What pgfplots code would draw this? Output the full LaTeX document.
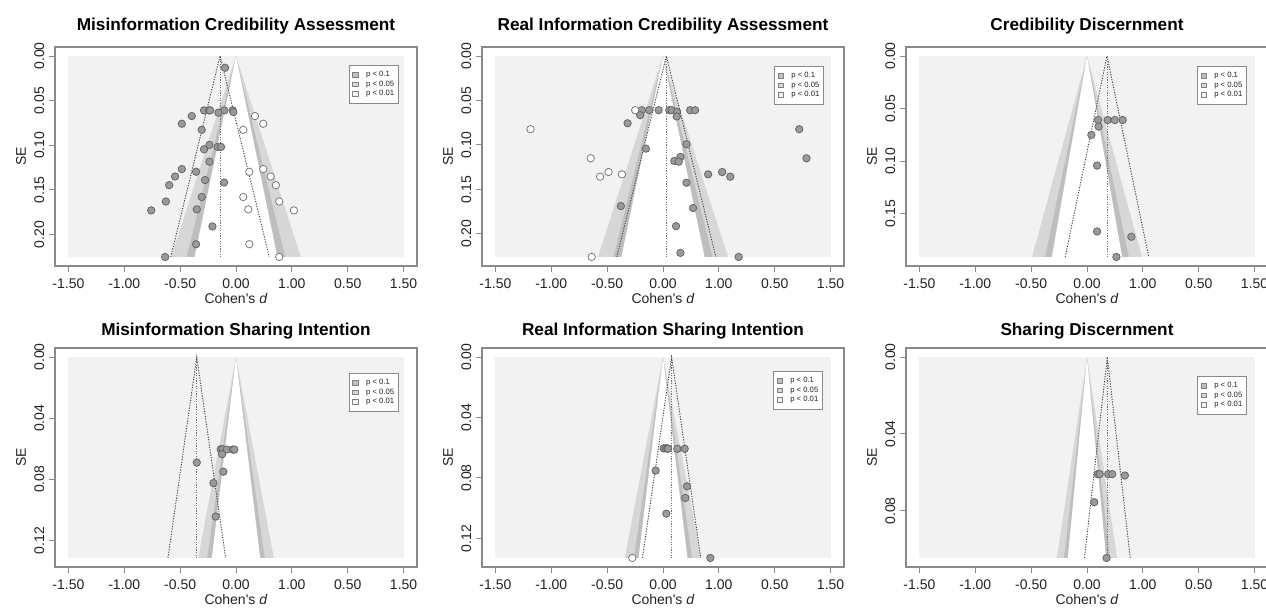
\documentclass[border=0pt]{standalone}
\usepackage{fontspec}
\setmainfont{Liberation Sans}
\usepackage{pgfplots}
\pgfplotsset{compat=1.18}

% contour shades and mark colours
\definecolor{bgshade}{HTML}{F2F2F2}
\definecolor{band99}{HTML}{D7D7D7}
\definecolor{band95}{HTML}{BEBEBE}
\definecolor{boxgray}{HTML}{8A8A8A}
\definecolor{ptfill}{HTML}{9A9A9A}
\definecolor{ptedge}{HTML}{666666}
\definecolor{openedge}{HTML}{7A7A7A}
\definecolor{txt}{HTML}{222222}

\pgfplotsset{
  funnel/.style={
    scale only axis, width=181pt, height=109.5pt,
    anchor=south west,
    xmin=-1.62, xmax=1.62,
    y dir=reverse,
    axis line style={boxgray, line width=0.6pt},
    xtick={-1.5,-1,-0.5,0,0.5,1,1.5},
    xticklabels={-1.50,-1.00,-0.50,0.00,1.00,0.50,1.50},
    tick align=outside, tick pos=left,
    major tick length=3pt,
    tick style={boxgray, line width=0.5pt},
    ticklabel style={font=\fontsize{7}{8}\selectfont, text=txt},
    /pgf/number format/assume math mode=true,
    yticklabel style={rotate=90, anchor=south,
      /pgf/number format/.cd, fixed, fixed zerofill, precision=2},
    yticklabel shift=-1.2pt,
    xlabel={Cohen\textquotesingle s \textit{d}},
    ylabel={SE},
    every axis x label/.style={at={(axis description cs:0.5,0)}, anchor=center, yshift=-16pt},
    every axis y label/.style={at={(axis description cs:-0.094,0.5)}, rotate=90, anchor=center},
    label style={font=\fontsize{7}{8}\selectfont, text=txt},
    legend style={draw=boxgray, line width=0.4pt, fill=white,
      font=\fontsize{3.85}{4.6}\selectfont, text=txt,
      inner xsep=1.6pt, inner ysep=2.4pt, row sep=0pt, column sep=3.4pt,
      nodes={inner sep=0.55pt, text height=2.8pt, text depth=0.8pt},
      anchor=north east},
    legend cell align=left,
    legend image code/.code={\draw[##1, line width=0.3pt] (0pt,-1.2pt) rectangle (2.6pt,1.2pt);},
  },
  bg/.style={fill=bgshade, draw=none, forget plot},
  b99/.style={fill=band99, draw=none, forget plot},
  b95/.style={fill=band95, draw=none, forget plot},
  b90/.style={fill=white, draw=none, forget plot},
  funnelline/.style={black!75, line width=0.45pt, dash pattern=on 0.6pt off 0.7pt, forget plot},
  estline/.style={black!55, line width=0.45pt, dash pattern=on 0.6pt off 0.7pt, forget plot},
  filled/.style={only marks, mark=*, mark size=1.85pt, forget plot,
    mark options={fill=ptfill, draw=ptedge, line width=0.4pt}},
  open/.style={only marks, mark=*, mark size=1.85pt, forget plot,
    mark options={fill=white, draw=openedge, line width=0.4pt}},
}

% legend of the three contour levels
\newcommand{\contourlegend}{%
  \addlegendimage{fill=band95, draw=gray}\addlegendentry{p < 0.1}
  \addlegendimage{fill=band99, draw=gray}\addlegendentry{p < 0.05}
  \addlegendimage{fill=bgshade, draw=gray}\addlegendentry{p < 0.01}
}

\newcommand{\paneltitle}[3]{\node[font=\fontsize{8.6}{10}\selectfont\bfseries, text=black] at (#1,#2) {#3};}

\begin{document}
\begin{tikzpicture}
\path[use as bounding box] (0,0) rectangle (633pt,-305pt);

% ---------------- Misinformation Credibility Assessment ----------------
\begin{axis}[funnel, at={(27.5pt,-133pt)},
  ymin=-0.0101, ymax=0.2353, ytick={0,0.05,0.10,0.15,0.20},
  legend style={at={(0.95,0.918)}}]
\addplot[bg]  coordinates {(-1.5,0) (1.5,0) (1.5,0.2252) (-1.5,0.2252)} -- cycle;
\addplot[b99] coordinates {(0,0) (0.5801,0.2252) (-0.5801,0.2252)} -- cycle;
\addplot[b95] coordinates {(0,0) (0.4414,0.2252) (-0.4414,0.2252)} -- cycle;
\addplot[b90] coordinates {(0,0) (0.3705,0.2252) (-0.3705,0.2252)} -- cycle;
\addplot[funnelline] coordinates {(-0.584,0.2252) (-0.143,0) (0.298,0.2252)};
\addplot[estline] coordinates {(-0.143,0) (-0.143,0.2252)};
\addplot[filled] coordinates {
 (-0.098,0.0132) (-0.286,0.0609) (-0.241,0.0609) (-0.232,0.0609) (-0.104,0.0609)
 (-0.030,0.0609) (-0.024,0.0628) (-0.158,0.0635) (-0.396,0.0673) (-0.485,0.0759)
 (-0.307,0.0827) (-0.238,0.0996) (-0.286,0.1045) (-0.164,0.1019) (-0.134,0.1019)
 (-0.238,0.1184) (-0.485,0.1267) (-0.357,0.1297) (-0.545,0.1350) (-0.598,0.1447)
 (-0.277,0.1390) (-0.107,0.1417) (-0.307,0.1580) (-0.628,0.1630) (-0.351,0.1718)
 (-0.759,0.1730) (-0.211,0.1910) (-0.357,0.2109) (-0.634,0.2252)};
\addplot[open] coordinates {
 (0.170,0.0673) (0.244,0.0759) (0.065,0.0827) (0.119,0.1297) (0.244,0.1267)
 (0.310,0.1350) (0.357,0.1447) (0.387,0.1630) (0.065,0.1580) (0.110,0.1718)
 (0.518,0.1730) (0.119,0.2109) (0.387,0.2252)};
\contourlegend
\end{axis}

% ---------------- Real Information Credibility Assessment ----------------
\begin{axis}[funnel, at={(241pt,-133pt)},
  ymin=-0.0102, ymax=0.2362, ytick={0,0.05,0.10,0.15,0.20},
  legend style={at={(0.945,0.913)}}]
\addplot[bg]  coordinates {(-1.5,0) (1.5,0) (1.5,0.226) (-1.5,0.226)} -- cycle;
\addplot[b99] coordinates {(0,0) (0.5822,0.226) (-0.5822,0.226)} -- cycle;
\addplot[b95] coordinates {(0,0) (0.4430,0.226) (-0.4430,0.226)} -- cycle;
\addplot[b90] coordinates {(0,0) (0.3718,0.226) (-0.3718,0.226)} -- cycle;
\addplot[funnelline] coordinates {(-0.413,0.226) (0.030,0) (0.473,0.226)};
\addplot[estline] coordinates {(0.030,0) (0.030,0.226)};
\addplot[filled] coordinates {
 (-0.189,0.0609) (-0.123,0.0609) (-0.039,0.0609) (0.057,0.0609) (0.078,0.0609)
 (0.126,0.0628) (0.243,0.0609) (0.287,0.0609) (-0.204,0.0665) (0.123,0.0680)
 (-0.317,0.0756) (1.219,0.0823) (0.210,0.0992) (-0.153,0.1041) (0.102,0.1180)
 (0.156,0.1135) (0.141,0.1188) (1.284,0.1150) (0.404,0.1331) (0.530,0.1305)
 (0.602,0.1357) (0.210,0.1425) (-0.377,0.1688) (0.269,0.1710) (0.117,0.1914)
 (0.156,0.2214) (0.677,0.2260)};
\addplot[open] coordinates {
 (-0.249,0.0609) (-1.186,0.0823) (-0.647,0.1150) (-0.488,0.1305) (-0.563,0.1357)
 (-0.368,0.1331) (-0.638,0.2260)};
\contourlegend
\end{axis}

% ---------------- Credibility Discernment ----------------
\begin{axis}[funnel, at={(453pt,-133pt)},
  ymin=-0.0086, ymax=0.1996, ytick={0,0.05,0.10,0.15},
  legend style={at={(0.942,0.913)}}]
\addplot[bg]  coordinates {(-1.5,0) (1.5,0) (1.5,0.191) (-1.5,0.191)} -- cycle;
\addplot[b99] coordinates {(0,0) (0.4920,0.191) (-0.4920,0.191)} -- cycle;
\addplot[b95] coordinates {(0,0) (0.3744,0.191) (-0.3744,0.191)} -- cycle;
\addplot[b90] coordinates {(0,0) (0.3142,0.191) (-0.3142,0.191)} -- cycle;
\addplot[funnelline] coordinates {(-0.195,0.191) (0.179,0) (0.553,0.191)};
\addplot[estline] coordinates {(0.179,0) (0.179,0.191)};
\addplot[filled] coordinates {
 (0.099,0.0608) (0.185,0.0608) (0.248,0.0608) (0.319,0.0608) (0.104,0.0671)
 (0.039,0.0750) (0.090,0.1041) (0.090,0.1668) (0.397,0.1718) (0.263,0.1910)};
\contourlegend
\end{axis}

% ---------------- Misinformation Sharing Intention ----------------
\begin{axis}[funnel, at={(27.5pt,-283.5pt)},
  ymin=-0.0059, ymax=0.1373, ytick={0,0.04,0.08,0.12},
  legend style={at={(0.95,0.886)}}]
\addplot[bg]  coordinates {(-1.5,0) (1.5,0) (1.5,0.1314) (-1.5,0.1314)} -- cycle;
\addplot[b99] coordinates {(0,0) (0.3385,0.1314) (-0.3385,0.1314)} -- cycle;
\addplot[b95] coordinates {(0,0) (0.2575,0.1314) (-0.2575,0.1314)} -- cycle;
\addplot[b90] coordinates {(0,0) (0.2162,0.1314) (-0.2162,0.1314)} -- cycle;
\addplot[funnelline] coordinates {(-0.609,0.1314) (-0.351,0) (-0.093,0.1314)};
\addplot[estline] coordinates {(-0.351,0) (-0.351,0.1314)};
\addplot[filled] coordinates {
 (-0.137,0.0603) (-0.119,0.0603) (-0.083,0.0605) (-0.030,0.0605) (-0.015,0.0605)
 (-0.125,0.0635) (-0.351,0.0690) (-0.113,0.0750) (-0.202,0.0824) (-0.182,0.1043)};
\contourlegend
\end{axis}

% ---------------- Real Information Sharing Intention ----------------
\begin{axis}[funnel, at={(241pt,-283.5pt)},
  ymin=-0.0060, ymax=0.1389, ytick={0,0.04,0.08,0.12},
  legend style={at={(0.942,0.895)}}]
\addplot[bg]  coordinates {(-1.5,0) (1.5,0) (1.5,0.1329) (-1.5,0.1329)} -- cycle;
\addplot[b99] coordinates {(0,0) (0.3424,0.1329) (-0.3424,0.1329)} -- cycle;
\addplot[b95] coordinates {(0,0) (0.2605,0.1329) (-0.2605,0.1329)} -- cycle;
\addplot[b90] coordinates {(0,0) (0.2186,0.1329) (-0.2186,0.1329)} -- cycle;
\addplot[funnelline] coordinates {(-0.184,0.1329) (0.077,0) (0.338,0.1329)};
\addplot[estline] coordinates {(0.077,0) (0.077,0.1329)};
\addplot[filled] coordinates {
 (0.006,0.0604) (0.024,0.0604) (0.039,0.0604) (0.045,0.0607) (0.128,0.0607)
 (0.194,0.0607) (-0.066,0.0751) (0.215,0.0855) (0.200,0.0932) (0.030,0.1036)
 (0.424,0.1329)};
\addplot[open] coordinates {(-0.275,0.1329)};
\contourlegend
\end{axis}

% ---------------- Sharing Discernment ----------------
\begin{axis}[funnel, at={(453pt,-283.5pt)},
  ymin=-0.0047, ymax=0.1092, ytick={0,0.04,0.08},
  legend style={at={(0.942,0.872)}}]
\addplot[bg]  coordinates {(-1.5,0) (1.5,0) (1.5,0.1045) (-1.5,0.1045)} -- cycle;
\addplot[b99] coordinates {(0,0) (0.2692,0.1045) (-0.2692,0.1045)} -- cycle;
\addplot[b95] coordinates {(0,0) (0.2048,0.1045) (-0.2048,0.1045)} -- cycle;
\addplot[b90] coordinates {(0,0) (0.1719,0.1045) (-0.1719,0.1045)} -- cycle;
\addplot[funnelline] coordinates {(-0.023,0.1045) (0.182,0) (0.387,0.1045)};
\addplot[estline] coordinates {(0.182,0) (0.182,0.1045)};
\addplot[filled] coordinates {
 (0.095,0.0609) (0.113,0.0609) (0.190,0.0609) (0.226,0.0609) (0.339,0.0616)
 (0.065,0.0755) (0.175,0.1045)};
\contourlegend
\end{axis}

% panel titles
\paneltitle{118pt}{-13pt}{Misinformation Credibility Assessment}
\paneltitle{331.5pt}{-13pt}{Real Information Credibility Assessment}
\paneltitle{543.5pt}{-13pt}{Credibility Discernment}
\paneltitle{118pt}{-165.5pt}{Misinformation Sharing Intention}
\paneltitle{331.5pt}{-165.5pt}{Real Information Sharing Intention}
\paneltitle{543.5pt}{-165.5pt}{Sharing Discernment}
\end{tikzpicture}
\end{document}
